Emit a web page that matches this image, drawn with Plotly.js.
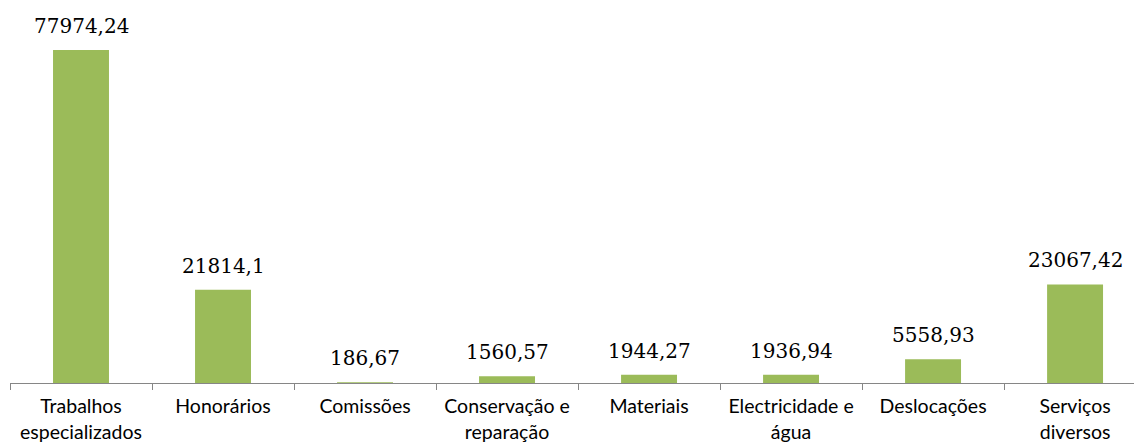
<!DOCTYPE html>
<html>
<head>
<meta charset="utf-8">
<script src="https://cdn.plot.ly/plotly-3.0.1.min.js"></script>
<style>html,body{margin:0;padding:0;background:#fff;}#chart{width:1134px;height:446px;}</style>
</head>
<body>
<div id="chart"></div>
<script>
var categories = ["Trabalhos<br>especializados", "Honorários", "Comissões", "Conservação e<br>reparação", "Materiais", "Electricidade e<br>água", "Deslocações", "Serviços<br>diversos"];
var values = [77974.24, 21814.1, 186.67, 1560.57, 1944.27, 1936.94, 5558.93, 23067.42];
var valueLabels = ["77974,24", "21814,1", "186,67", "1560,57", "1944,27", "1936,94", "5558,93", "23067,42"];

var trace = {
  type: "bar",
  x: categories,
  y: values,
  width: 0.394,
  marker: {color: "#9BBB59"},
  hoverinfo: "none"
};

var annotations = categories.map(function(c, i) {
  return {
    x: c, y: values[i], xref: "x", yref: "y",
    text: valueLabels[i], showarrow: false,
    yanchor: "bottom", yshift: 10,
    font: {family: "DejaVu Serif", size: 20, color: "#000"}
  };
});

var layout = {
  width: 1134, height: 446,
  margin: {l: 10, r: 0, t: 0, b: 63},
  paper_bgcolor: "#fff", plot_bgcolor: "#fff",
  showlegend: false,
  xaxis: {
    type: "category",
    range: [-0.5, 7.415],
    showline: true, linecolor: "#868686", linewidth: 1,
    ticks: "outside", tickson: "boundaries", ticklen: 6, tickcolor: "#868686",
    ticklabelstandoff: 6,
    tickfont: {family: "Lato", size: 19.5, color: "#000"},
    showgrid: false, zeroline: false
  },
  yaxis: {
    range: [0, 89680],
    visible: false, showgrid: false, zeroline: false
  },
  annotations: annotations
};

Plotly.newPlot("chart", [trace], layout, {displayModeBar: false, staticPlot: true});
</script>
</body>
</html>
